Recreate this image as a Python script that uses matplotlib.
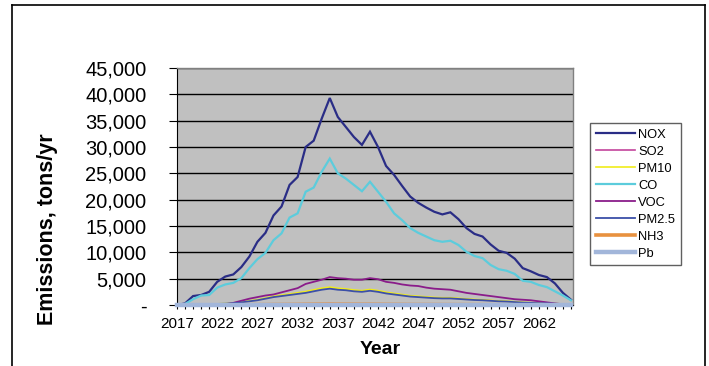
import matplotlib
matplotlib.use("Agg")
import matplotlib.pyplot as plt
from matplotlib.lines import Line2D

plt.rcParams['font.family'] = ['Liberation Sans', 'DejaVu Sans']

years = list(range(2017, 2067))

nox = [0, 300, 1700, 1900, 2500, 4400, 5400, 5800, 7200, 9200,
       12000, 13700, 17000, 18700, 22800, 24300, 30000, 31200, 35400, 39300,
       35700, 33800, 31900, 30400, 32900, 30000, 26400, 24700, 22600, 20600,
       19400, 18500, 17700, 17200, 17600, 16300, 14600, 13500, 13000, 11500,
       10300, 9900, 8800, 7000, 6400, 5700, 5300, 4100, 2300, 1000]

co = [0, 200, 1100, 1800, 1900, 3300, 3900, 4200, 5100, 7000,
      8700, 9900, 12300, 13600, 16600, 17400, 21500, 22300, 25300, 27800,
      25000, 24000, 22800, 21600, 23400, 21500, 19600, 17400, 16100, 14600,
      13700, 13000, 12300, 12000, 12200, 11400, 10100, 9300, 8900, 7600,
      6800, 6500, 5900, 4600, 4400, 3800, 3400, 2600, 1800, 900]

voc = [0, 0, 0, 0, 0, 50, 150, 400, 800, 1200,
       1500, 1800, 2000, 2400, 2800, 3200, 4000, 4400, 4800, 5300,
       5100, 5000, 4800, 4800, 5100, 4900, 4400, 4200, 3900, 3700,
       3600, 3300, 3100, 3000, 2900, 2600, 2300, 2100, 1900, 1700,
       1500, 1300, 1100, 1000, 900, 700, 500, 300, 150, 50]

pm25 = [0, 0, 0, 50, 100, 200, 250, 350, 500, 700,
        900, 1200, 1500, 1700, 1900, 2100, 2300, 2600, 2900, 3100,
        2900, 2800, 2600, 2500, 2700, 2500, 2200, 2000, 1800, 1600,
        1500, 1400, 1300, 1250, 1250, 1150, 1050, 950, 900, 800,
        700, 650, 550, 450, 400, 350, 300, 250, 150, 80]

pm10 = [0, 0, 0, 60, 110, 220, 280, 390, 560, 780,
        1000, 1330, 1650, 1870, 2100, 2320, 2550, 2880, 3200, 3400,
        3180, 3060, 2850, 2730, 2950, 2740, 2420, 2200, 1990, 1770,
        1660, 1550, 1440, 1380, 1380, 1270, 1160, 1050, 990, 880,
        770, 720, 610, 500, 440, 390, 330, 280, 170, 90]

so2 = [0, 0, 10, 15, 20, 35, 45, 50, 60, 75,
       90, 100, 120, 130, 150, 160, 190, 200, 220, 240,
       220, 210, 200, 190, 200, 190, 170, 160, 150, 140,
       130, 125, 120, 115, 115, 110, 100, 90, 85, 75,
       70, 65, 60, 50, 45, 40, 35, 30, 20, 10]

nh3 = [0, 0, 5, 10, 15, 25, 30, 35, 45, 55,
       65, 75, 90, 100, 110, 120, 140, 150, 160, 170,
       160, 155, 145, 140, 150, 140, 125, 115, 110, 100,
       95, 90, 85, 80, 80, 75, 70, 65, 60, 55,
       50, 45, 40, 35, 30, 28, 25, 20, 15, 10]

pb = [80] * len(years)

series = [
    ("NOX", nox, "#2A2D86", 1.6),
    ("SO2", so2, "#C4449C", 1.2),
    ("PM10", pm10, "#F0EC1A", 1.2),
    ("CO", co, "#5CCCDC", 1.6),
    ("VOC", voc, "#8A1C8A", 1.3),
    ("PM2.5", pm25, "#3B4FA8", 1.3),
    ("NH3", nh3, "#E8913F", 2.6),
    ("Pb", pb, "#A2B6DA", 3.2),
]

W, H = 709, 366
fig = plt.figure(figsize=(W / 100, H / 100), dpi=100)
fig.patch.set_facecolor("white")

ax = fig.add_axes([177 / W, 1 - 305 / H, (573 - 177) / W, (305 - 68) / H])
ax.set_facecolor("#C0C0C0")

handles = []
for name, vals, color, lw in series:
    ax.plot(years, vals, color=color, lw=lw, clip_on=False,
            solid_joinstyle="miter", zorder=3)
    handles.append(Line2D([], [], color=color, lw=lw))

ax.set_xlim(2017, 2066.25)
ax.set_ylim(0, 45000)

yt = list(range(0, 45001, 5000))
ax.set_yticks(yt)
ax.set_yticklabels(["-"] + [f"{v:,}" for v in yt[1:]], fontsize=14.5)
ax.yaxis.grid(True, color="black", lw=1.0, zorder=1)
ax.set_axisbelow(True)

ax.set_xticks(years)
ax.set_xticklabels([str(y) if (y - 2017) % 5 == 0 else "" for y in years],
                   fontsize=11)
ax.tick_params(axis="x", direction="out", length=3, width=0.8, pad=6,
               color="black")
ax.tick_params(axis="y", direction="out", length=6, width=0.8, pad=16,
               color="black")

for side in ("top", "right"):
    ax.spines[side].set_color("#808080")
    ax.spines[side].set_linewidth(1.0)
ax.spines["left"].set_color("black")
ax.spines["bottom"].set_color("black")

fig.text(48 / W, 1 - 229 / H, "Emissions, tons/yr", rotation=90,
         fontsize=15.5, fontweight="bold", ha="center", va="center")
fig.text(380 / W, 1 - 350 / H, "Year", fontsize=14, fontweight="bold",
         ha="center", va="center")

leg = fig.legend(handles, [s[0] for s in series], loc="upper left",
                 bbox_to_anchor=(590 / W, 1 - 123 / H), fontsize=9.3,
                 frameon=True, fancybox=False, framealpha=1,
                 edgecolor="#606060", handlelength=3.0, handletextpad=0.3,
                 labelspacing=0.38, borderpad=0.45, borderaxespad=0)
leg.get_frame().set_linewidth(1.0)

# outer frame around the chart area
frame_kw = dict(color="black", lw=1.2, transform=fig.transFigure)
fig.add_artist(Line2D([12 / W, 12 / W], [0, 1 - 5 / H], **frame_kw))
fig.add_artist(Line2D([12 / W, 705 / W], [1 - 5 / H, 1 - 5 / H], **frame_kw))
fig.add_artist(Line2D([705 / W, 705 / W], [1 - 5 / H, 0], **frame_kw))

fig.savefig("out.png", dpi=100)
